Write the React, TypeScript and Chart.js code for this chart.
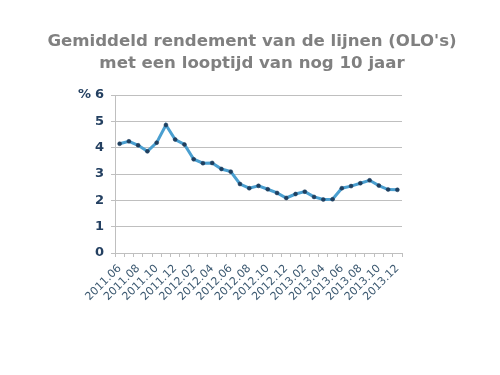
import React, { useEffect, useRef } from "react";
import { Chart, registerables } from "chart.js";

Chart.register(...registerables);

const titleLines = ["Gemiddeld rendement van de lijnen (OLO's)", "met een looptijd van nog 10 jaar"];
const months = [
  "2011.06", "2011.07", "2011.08", "2011.09", "2011.10", "2011.11", "2011.12",
  "2012.01", "2012.02", "2012.03", "2012.04", "2012.05", "2012.06", "2012.07", "2012.08",
  "2012.09", "2012.10", "2012.11", "2012.12", "2013.01", "2013.02", "2013.03", "2013.04",
  "2013.05", "2013.06", "2013.07", "2013.08", "2013.09", "2013.10", "2013.11", "2013.12",
];
const yields = [
  4.15, 4.24, 4.09, 3.86, 4.19, 4.86, 4.31, 4.12, 3.56, 3.41, 3.42, 3.19, 3.09,
  2.62, 2.46, 2.55, 2.42, 2.28, 2.09, 2.24, 2.33, 2.13, 2.03, 2.04, 2.46, 2.54,
  2.65, 2.76, 2.56, 2.41, 2.40,
];
const yMin = 0;
const yMax = 6;
const yUnit = "%";

export default function App() {
  const ref = useRef<HTMLCanvasElement>(null);
  useEffect(() => {
    document.body.style.margin = "0";
    const overlay = {
      id: "overlay",
      afterDraw(chart: any) {
        const ctx = chart.ctx;
        ctx.save();
        ctx.fillStyle = "#808080";
        ctx.font = "bold 16.6px 'DejaVu Sans'";
        ctx.textAlign = "center";
        ctx.textBaseline = "alphabetic";
        ctx.fillText(titleLines[0], 252, 46);
        ctx.fillText(titleLines[1], 252, 68);
        const ys = chart.scales.y;
        ctx.fillStyle = "#244061";
        ctx.font = "bold 13px 'DejaVu Sans'";
        ctx.textAlign = "left";
        ctx.textBaseline = "middle";
        ctx.fillText(yUnit, 78, ys.getPixelForValue(yMax));
        ctx.restore();
      },
    };
    const chart = new Chart(ref.current!, {
      type: "line",
      data: {
        labels: months,
        datasets: [
          {
            data: yields,
            borderColor: "#4a9fd0",
            borderWidth: 3,
            pointRadius: 2,
            pointBackgroundColor: "#1f3f5f",
            pointBorderColor: "#1f3f5f",
            pointBorderWidth: 0.5,
            tension: 0,
          },
        ],
      },
      options: {
        animation: false,
        responsive: false,
        layout: { padding: { top: 95, right: 98, left: 0, bottom: 0 } },
        plugins: { legend: { display: false }, tooltip: { enabled: false }, title: { display: false } },
        scales: {
          x: {
            offset: true,
            grid: { offset: true, drawOnChartArea: false, drawTicks: true, tickLength: 4, color: "#bfbfbf" },
            border: { color: "#bfbfbf" },
            ticks: {
              autoSkip: false,
              minRotation: 45,
              maxRotation: 45,
              padding: 5,
              color: "#3b5870",
              font: { family: "'DejaVu Sans'", size: 11 },
              callback: (_v: any, i: number) => (i % 2 === 0 ? months[i] : ""),
            },
            afterFit: (s: any) => { s.height = 122; },
          },
          y: {
            min: yMin,
            max: yMax,
            grid: { color: "#bfbfbf", tickLength: 4 },
            border: { color: "#bfbfbf" },
            ticks: {
              stepSize: 1,
              padding: 7,
              color: "#244061",
              font: { family: "'DejaVu Sans'", size: 13, weight: "bold" },
            },
            afterFit: (s: any) => { s.width = 115; },
          },
        },
      },
      plugins: [overlay],
    });
    return () => chart.destroy();
  }, []);
  return <canvas ref={ref} width={500} height={375} style={{ display: "block" }} />;
}
